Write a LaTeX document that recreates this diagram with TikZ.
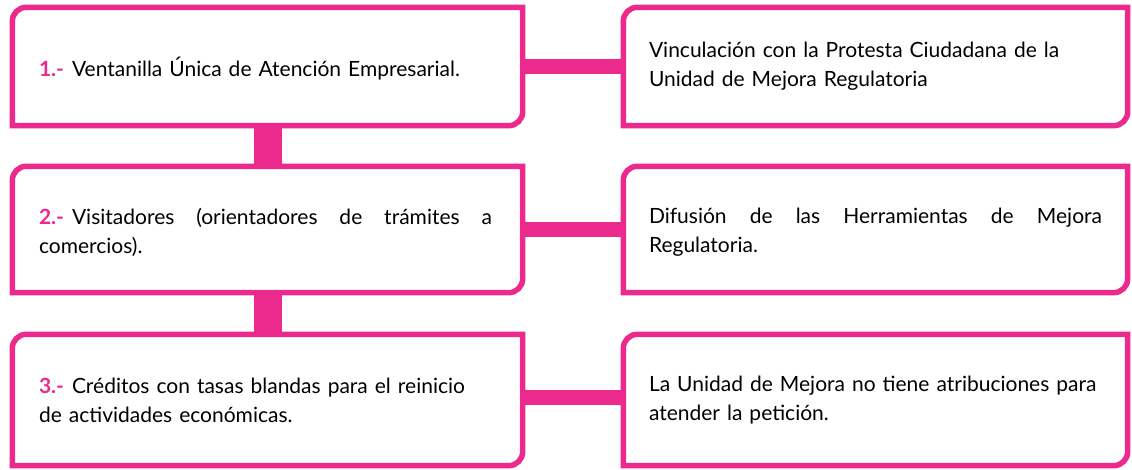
\documentclass[tikz,border=0pt]{standalone}
\usepackage{fontspec}
\setmainfont{Lato}
\definecolor{rosa}{HTML}{EC2A8E}

\tikzset{
  caja/.style={rectangle, inner sep=0pt, text width=453pt,
    font=\fontsize{21}{29}\selectfont},
  marco/.style={draw=rosa, line width=5.5pt, fill=white},
  enlace/.style={draw=rosa, line width=15pt},
  tronco/.style={draw=rosa, line width=28pt}
}
\newcommand{\num}[1]{\textcolor{rosa}{\bfseries #1}\hspace{8pt}}
% frame with two rounded corners (top left, bottom right)
\newcommand{\marco}[1]{%
  \path[marco] (#1.south west) -- ([yshift=-14pt]#1.north west)
    arc[start angle=180, end angle=90, radius=14pt] -- (#1.north east)
    -- ([yshift=14pt]#1.south east)
    arc[start angle=0, end angle=-90, radius=14pt] -- cycle;}

\begin{document}
\begin{tikzpicture}[x=1pt, y=1pt]

  \useasboundingbox (0,0) rectangle (1132,-470);

  % Boxes (only their place, text comes later)
  \path (267.5,-66.5) node[minimum width=510pt, minimum height=118pt] (accion1) {};
  \path (267.5,-229.5) node[minimum width=510pt, minimum height=126pt] (accion2) {};
  \path (267.5,-400) node[minimum width=510pt, minimum height=131pt] (accion3) {};
  \path (875.5,-66.5) node[minimum width=504pt, minimum height=118pt] (resp1) {};
  \path (875.5,-229.5) node[minimum width=504pt, minimum height=126pt] (resp2) {};
  \path (875.5,-400) node[minimum width=504pt, minimum height=131pt] (resp3) {};

  % Connectors
  \draw[tronco] (accion1.south) -- (accion2.north);
  \draw[tronco] (accion2.south) -- (accion3.north);
  \draw[enlace] (accion1.east) -- (resp1.west);
  \draw[enlace] (accion2.east) -- (resp2.west);
  \draw[enlace] ([yshift=3pt]accion3.east) -- ([yshift=3pt]resp3.west);

  % Frames
  \marco{accion1} \marco{accion2} \marco{accion3}
  \marco{resp1} \marco{resp2} \marco{resp3}

  % Texts
  \node[caja, align=left] (t1) at ([xshift=-2pt, yshift=-2pt]accion1.center)
    {\num{1.-}Ventanilla Única de Atención Empresarial.};
  \node[caja, align=justify] (t2) at ([xshift=-2pt, yshift=-3pt]accion2.center)
    {\num{2.-}Visitadores (orientadores de trámites a\linebreak comercios).};
  \node[caja, align=left] (t3) at ([xshift=-2pt]accion3.center)
    {\num{3.-}Créditos con tasas blandas para el reinicio\\de actividades económicas.};
  \node[caja, align=left] (u1) at (resp1.center)
    {Vinculación con la Protesta Ciudadana de la\\Unidad de Mejora Regulatoria};
  \node[caja, align=justify] (u2) at ([yshift=-3pt]resp2.center)
    {Difusión de las Herramientas de Mejora\linebreak Regulatoria.};
  \node[caja, align=left] (u3) at (resp3.center)
    {La Unidad de Mejora no tiene atribuciones para\\atender la petición.};

\end{tikzpicture}
\end{document}
